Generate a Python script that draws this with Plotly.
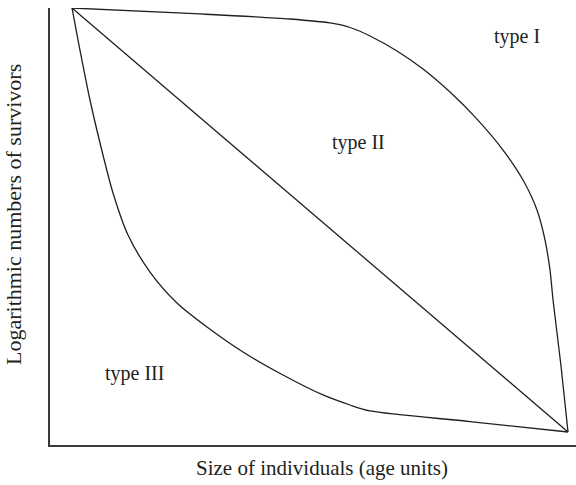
import plotly.graph_objects as go

# Survivorship curves: age (relative units) vs. log10 of survivors
type1_age = [0.0, 2.581, 4.395, 5.202, 5.605, 6.008, 6.552, 7.077, 7.621, 8.165, 8.690, 9.093, 9.375, 9.536, 9.637, 9.698, 9.859, 10.0]
type1_log = [3.0, 2.958, 2.922, 2.894, 2.862, 2.802, 2.696, 2.568, 2.405, 2.214, 1.995, 1.783, 1.571, 1.359, 1.146, 0.934, 0.467, 0.0]

type2_age = [0.0, 10.0]
type2_log = [3.0, 0.0]

type3_age = [0.0, 0.141, 0.363, 0.565, 0.827, 1.129, 1.573, 2.117, 2.722, 3.448, 4.254, 5.060, 5.605, 6.008, 8.024, 10.0]
type3_log = [3.0, 2.738, 2.349, 2.045, 1.691, 1.394, 1.132, 0.913, 0.743, 0.566, 0.403, 0.262, 0.191, 0.149, 0.074, 0.0]

curve_labels = ["type I", "type II", "type III"]
label_age = [8.97, 5.77, 1.27]
label_log = [2.795, 2.05, 0.417]

x_title = "Size of individuals (age units)"
y_title = "Logarithmic numbers of survivors"

INK = "#231f20"
FONT = "Liberation Serif"

fig = go.Figure()
for xs, ys in [(type1_age, type1_log), (type2_age, type2_log), (type3_age, type3_log)]:
    fig.add_trace(go.Scatter(
        x=xs, y=ys, mode="lines",
        line=dict(color=INK, width=1.3, shape="spline", smoothing=0.8),
        cliponaxis=False, hoverinfo="skip", showlegend=False,
    ))

for text, xa, ya in zip(curve_labels, label_age, label_log):
    fig.add_annotation(x=xa, y=ya, text=text, showarrow=False,
                       font=dict(family=FONT, size=20, color=INK),
                       xanchor="center", yanchor="middle")

# Axis titles
fig.add_annotation(x=0.5, y=0, xref="paper", yref="paper", text=x_title,
                   showarrow=False, xanchor="center", yanchor="top", yshift=-9,
                   xshift=9, font=dict(family=FONT, size=21, color=INK))
fig.add_annotation(x=0, y=0.5, xref="paper", yref="paper", text=y_title,
                   showarrow=False, textangle=-90, xanchor="right", yanchor="middle",
                   xshift=-22, yshift=12, font=dict(family=FONT, size=22, color=INK))

axis_common = dict(showgrid=False, zeroline=False, showticklabels=False, ticks="",
                   showline=True, linecolor="#3a3a3a", linewidth=1.5, fixedrange=True)

fig.update_layout(
    width=576, height=485,
    margin=dict(l=50, r=0, t=8, b=40),
    paper_bgcolor="white", plot_bgcolor="white",
    xaxis=dict(range=[-0.4435, 10.161], **axis_common),
    yaxis=dict(range=[-0.092, 3.0], **axis_common),
    showlegend=False,
)

fig.write_html("out.html")
